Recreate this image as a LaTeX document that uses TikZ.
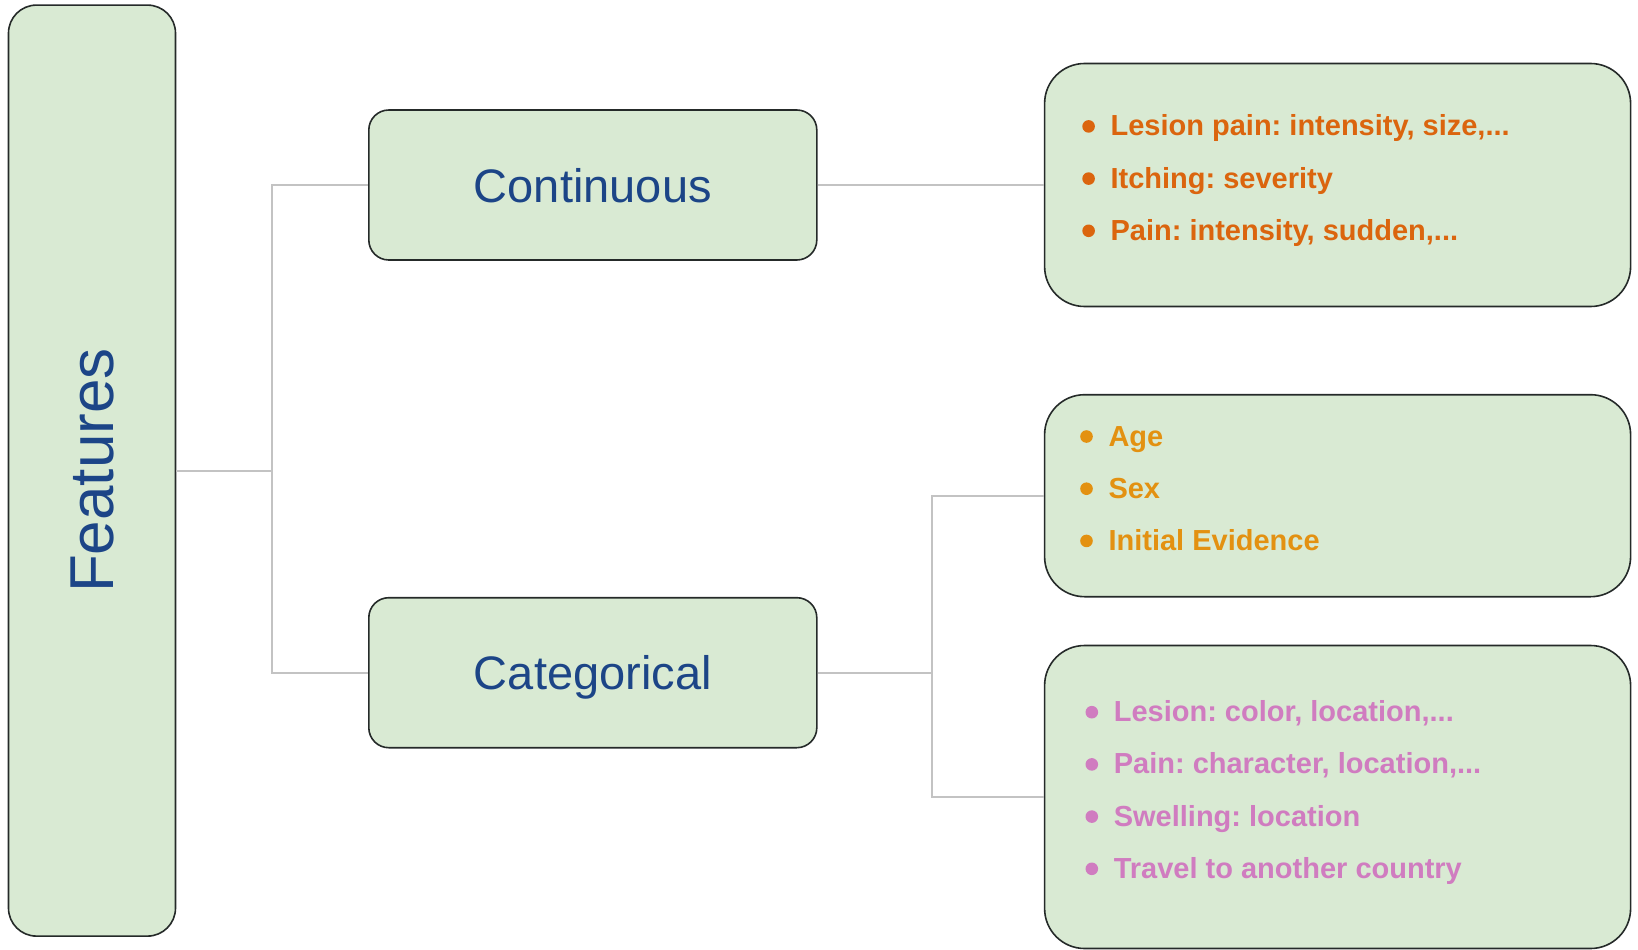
\documentclass[tikz,border=0pt]{standalone}
\usepackage{fontspec}
\setmainfont{Liberation Sans}
\usepackage{xcolor}
\usepackage{tikz}
\usetikzlibrary{calc}
\frenchspacing
\definecolor{boxfill}{HTML}{D9EAD3}
\definecolor{boxline}{HTML}{252A29}
\definecolor{navyblue}{HTML}{1C4587}
\definecolor{linkgray}{HTML}{C3C3C3}
\definecolor{orangeA}{HTML}{DB650E}
\definecolor{amberB}{HTML}{E39111}
\definecolor{pinkC}{HTML}{D07CC0}
\newcommand{\etcdots}{...}
\tikzset{
  panel/.style={draw=boxline,fill=boxfill,line width=1.6pt},
  link/.style={draw=linkgray,line width=2pt},
  entry/.style={anchor=base west,inner sep=0pt,font=\fontsize{29}{35}\selectfont\bfseries},
}

\begin{document}
\begin{tikzpicture}[x=1pt,y=-1pt]
\useasboundingbox (0,0) rectangle (1638,950);
\node[panel,rounded corners=28pt,minimum width=167pt,minimum height=931pt] (feat) at (92,470.6) {};
\node[text=navyblue,rotate=90,inner sep=0pt,font=\fontsize{62}{70}\selectfont] (featlab) at (feat.center) {Features};
\node[panel,rounded corners=20pt,minimum width=448pt,minimum height=150pt,text=navyblue,text depth=0pt,font=\fontsize{47}{56}\selectfont] (cont) at (592.8,185) {Continuous};
\node[panel,rounded corners=20pt,minimum width=448pt,minimum height=150pt,text=navyblue,text depth=0pt,font=\fontsize{47}{56}\selectfont] (cat) at (592.8,672.7) {Categorical};
\node[panel,rounded corners=40pt,minimum width=586pt,minimum height=243pt] (lstA) at (1337.6,185) {};
\node[panel,rounded corners=40pt,minimum width=586pt,minimum height=202pt] (lstB) at (1337.6,495.7) {};
\node[panel,rounded corners=40pt,minimum width=586pt,minimum height=303pt] (lstC) at (1337.6,797) {};
% tree links
\coordinate (jf) at ($(feat.east)+(96,0)$);
\coordinate (jc) at ($(cat.east)+(114,0)$);
\draw[link] (feat.east) -- (jf) |- (cont.west);
\draw[link] (jf) |- (cat.west);
\draw[link] (cont.east) -- (lstA.west);
\draw[link] (cat.east) -- (jc) |- (lstB.west);
\draw[link] (jc) |- (lstC.west);
% bullet lists
\foreach \t [count=\i] in {{Lesion pain: intensity, size,\etcdots},{Itching: severity},{Pain: intensity, sudden,\etcdots}}{
  \node[entry,text=orangeA] (a\i) at (1110.4,83.7+52.2*\i) {\t};
  \fill[orangeA] ($(a\i.base west)+(-21.8,-9.5)$) circle (6.3pt);}
\foreach \t [count=\i] in {Age,Sex,Initial Evidence}{
  \node[entry,text=amberB] (b\i) at (1108.3,393.8+52.2*\i) {\t};
  \fill[amberB] ($(b\i.base west)+(-21.8,-9.5)$) circle (6.3pt);}
\foreach \t [count=\i] in {{Lesion: color, location,\etcdots},{Pain: character, location,\etcdots},{Swelling: location},{Travel to another country}}{
  \node[entry,text=pinkC] (c\i) at (1113.6,669.5+52.2*\i) {\t};
  \fill[pinkC] ($(c\i.base west)+(-21.8,-9.5)$) circle (6.3pt);}
\end{tikzpicture}
\end{document}
